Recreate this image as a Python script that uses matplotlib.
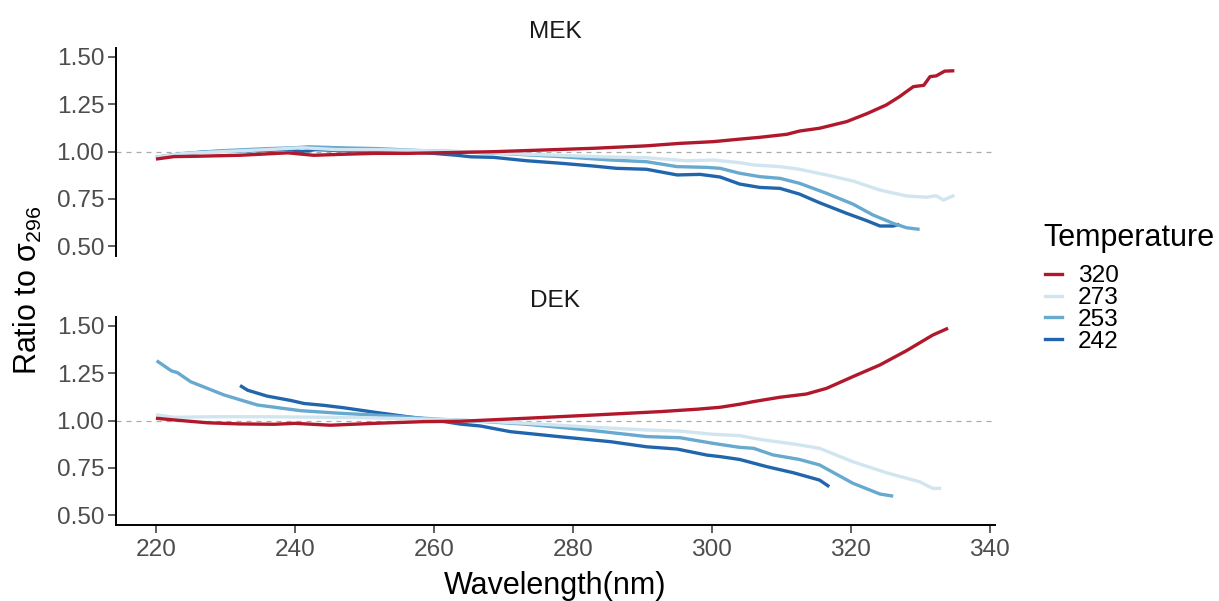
import matplotlib
matplotlib.use("Agg")
import matplotlib.pyplot as plt
from matplotlib.lines import Line2D

plt.rcParams['font.family'] = ['Liberation Sans', 'DejaVu Sans']
plt.rcParams['mathtext.fontset'] = 'custom'
plt.rcParams['mathtext.rm'] = 'Liberation Sans'
plt.rcParams['mathtext.it'] = 'Liberation Sans'

temps = ["320", "273", "253", "242"]
colors = {"320": "#B2182B", "273": "#D1E5F0", "253": "#67A9CF", "242": "#2166AC"}
panels = ["MEK", "DEK"]

# ---- MEK ----
mek_320_x = [220, 222.6, 226, 232, 239, 242.7, 246.6, 251.3, 256, 263.3, 268.6, 275.8, 283, 290.6, 295.4, 300.2,
             303.6, 306.9, 310.8, 312.6, 315.5, 319.4, 322.3, 325.1, 327, 329, 330.5, 331.4, 332.3, 333.5, 334.9]
mek_320_y = [0.96, 0.973, 0.975, 0.98, 0.993, 0.98, 0.985, 0.99, 0.99, 0.995, 0.999, 1.008, 1.017, 1.03, 1.043, 1.052,
             1.064, 1.075, 1.091, 1.108, 1.123, 1.158, 1.20, 1.246, 1.29, 1.343, 1.35, 1.396, 1.40, 1.425, 1.427]

mek_273_x = [220, 224, 230, 236, 241, 246, 252, 258, 263.8, 270, 278.2, 284, 290.6, 296.4, 300.2, 304, 306,
             309.8, 312.6, 316.5, 320.3, 324.2, 328, 330.9, 332.3, 333.3, 334.9]
mek_273_y = [0.97, 0.99, 1.0, 1.01, 1.02, 1.01, 1.01, 1.005, 1.0, 0.99, 0.98, 0.972, 0.967, 0.951, 0.955, 0.941, 0.929,
             0.92, 0.906, 0.876, 0.844, 0.796, 0.765, 0.758, 0.766, 0.743, 0.768]

mek_253_x = [220, 224, 230, 236, 240, 242, 246, 252, 258, 263.8, 271, 278.2, 285.4, 290.6, 295, 299.3, 301.2, 304,
             306.9, 309.8, 312.6, 316.5, 320.3, 323.2, 326.1, 328, 329.9]
mek_253_y = [0.97, 0.99, 1.005, 1.015, 1.02, 1.025, 1.02, 1.015, 1.005, 0.999, 0.987, 0.973, 0.955, 0.946, 0.92, 0.916,
             0.911, 0.885, 0.867, 0.858, 0.832, 0.779, 0.722, 0.664, 0.62, 0.597, 0.588]

mek_242_x = [220, 223, 227.4, 232, 236, 238.9, 241, 243, 246.6, 251, 256, 260, 263.3, 265.3, 268.6, 273.4, 278.2,
             283, 286.3, 290.6, 295, 298.3, 301.2, 304, 306.9, 309.8, 312.6, 315.5, 319.4, 322.3, 324.2, 326.1, 327]
mek_242_y = [0.968, 0.985, 0.999, 1.003, 1.005, 1.012, 1.0, 1.01, 1.005, 1.0, 0.999, 0.99, 0.98, 0.972, 0.969, 0.951,
             0.938, 0.923, 0.911, 0.906, 0.876, 0.879, 0.865, 0.828, 0.81, 0.805, 0.775, 0.729, 0.673, 0.634, 0.606,
             0.606, 0.615]

# ---- DEK ----
dek_320_x = [220, 222.6, 227.4, 232, 237, 240, 245.1, 251.4, 258.6, 263.8, 273.4, 283, 292.6, 298, 301.2, 304, 306,
             309.8, 313.6, 316.5, 320.3, 324.2, 328, 331.8, 334]
dek_320_y = [1.012, 1.003, 0.988, 0.982, 0.98, 0.985, 0.975, 0.985, 0.994, 0.996, 1.012, 1.029, 1.047, 1.06, 1.07,
             1.086, 1.1, 1.123, 1.14, 1.17, 1.232, 1.294, 1.369, 1.452, 1.488]

dek_273_x = [220, 222.6, 228, 235, 242, 250, 256, 262, 265, 273.4, 283, 290.6, 295.4, 300.2, 304, 306.9, 312.1,
             315.5, 320.3, 325.1, 329.9, 331.8, 333]
dek_273_y = [1.03, 1.017, 1.02, 1.02, 1.018, 1.015, 1.01, 1.005, 1.0, 0.985, 0.964, 0.95, 0.944, 0.927, 0.92, 0.9,
             0.874, 0.853, 0.782, 0.724, 0.676, 0.641, 0.641]

dek_253_x = [220.1, 222.2, 223.1, 225, 229.8, 234.6, 240.8, 246.6, 253.8, 261, 265.3, 273.4, 282.1, 290.6, 295.4,
             300.2, 304, 306, 308.8, 312.6, 315.5, 320.3, 324.2, 326.1]
dek_253_y = [1.316, 1.263, 1.253, 1.205, 1.135, 1.082, 1.052, 1.038, 1.024, 1.006, 0.999, 0.98, 0.95, 0.915, 0.909,
             0.879, 0.858, 0.853, 0.818, 0.794, 0.765, 0.668, 0.611, 0.6]

dek_242_x = [232.1, 233.2, 236, 239.4, 241.3, 244.2, 247.1, 251.4, 256.2, 260, 263.8, 266.7, 271, 278.2, 285.4,
             290.6, 295, 299.3, 301.2, 304, 307.9, 311.7, 315.5, 316.9]
dek_242_y = [1.185, 1.16, 1.129, 1.106, 1.09, 1.08, 1.067, 1.044, 1.02, 1.003, 0.981, 0.971, 0.941, 0.914, 0.888,
             0.861, 0.849, 0.817, 0.809, 0.794, 0.756, 0.724, 0.685, 0.65]

data = {
    "MEK": {"320": (mek_320_x, mek_320_y), "273": (mek_273_x, mek_273_y),
            "253": (mek_253_x, mek_253_y), "242": (mek_242_x, mek_242_y)},
    "DEK": {"320": (dek_320_x, dek_320_y), "273": (dek_273_x, dek_273_y),
            "253": (dek_253_x, dek_253_y), "242": (dek_242_x, dek_242_y)},
}

xticks = [220, 240, 260, 280, 300, 320, 340]
yticks = [0.50, 0.75, 1.00, 1.25, 1.50]

SMALL = 17.6
BIG = 22
LW = 2.4

W, H = 1219, 601
fig = plt.figure(figsize=(W / 100, H / 100), dpi=100)
left, right = 116 / W, 995 / W
boxes = [(47.5, 255.5), (316.5, 524.5)]
axes = []
for i, (name, (t, b)) in enumerate(zip(panels, boxes)):
    ax = fig.add_axes([left, 1 - b / H, right - left, (b - t) / H])
    axes.append(ax)
    ax.axhline(1.0, color="#AAAAAA", lw=0.9, ls=(0, (4, 4)), zorder=1)
    for temp in ["242", "253", "273", "320"]:
        x, y = data[name][temp]
        ax.plot(x, y, color=colors[temp], lw=LW, solid_capstyle="butt", zorder=2)
    ax.set_xlim(214.25, 340.75)
    ax.set_ylim(0.45, 1.55)
    ax.set_yticks(yticks)
    ax.set_yticklabels([f"{v:.2f}" for v in yticks])
    ax.set_xticks(xticks)
    for s in ["top", "right"]:
        ax.spines[s].set_visible(False)
    for s in ["left", "bottom"]:
        ax.spines[s].set_linewidth(1.4)
    ax.tick_params(axis="both", length=5.5, width=1.1, color="#333333", labelsize=SMALL,
                   labelcolor="#4D4D4D", pad=3)
    ax.tick_params(axis="x", pad=5)
    ax.set_title(name, fontsize=SMALL, pad=7, color="#1A1A1A")
    if i == 0:
        ax.spines["bottom"].set_visible(False)
        ax.tick_params(axis="x", bottom=False, labelbottom=False)

axes[1].set_xlabel("Wavelength(nm)", fontsize=BIG, labelpad=7)
fig.text(28 / W, 1 - 290 / H, "Ratio to σ$_{296}$", rotation=90, fontsize=BIG, ha="center", va="center")

# legend (guide) drawn in figure pixel coordinates
fig.text(1043 / W, 1 - 238 / H, "Temperature", fontsize=BIG, ha="left", va="center")
entry_y = [274, 296, 317, 339]
for temp, yy in zip(temps, entry_y):
    fig.add_artist(Line2D([1045 / W, 1062 / W], [1 - yy / H, 1 - yy / H], color=colors[temp], lw=LW,
                          transform=fig.transFigure))
    fig.text(1078 / W, 1 - yy / H, temp, fontsize=SMALL, ha="left", va="center_baseline")

fig.savefig("out.png", dpi=100)
